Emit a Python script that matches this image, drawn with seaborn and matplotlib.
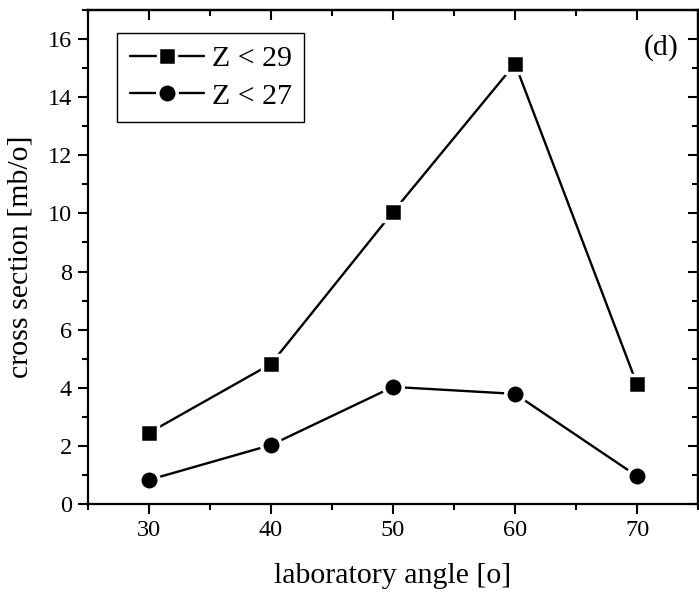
import matplotlib
matplotlib.use("Agg")
import matplotlib.pyplot as plt
import seaborn as sns
import pandas as pd
from matplotlib.ticker import MultipleLocator

angles = [30, 40, 50, 60, 70]
z29 = [2.45, 4.82, 10.05, 15.15, 4.12]
z27 = [0.83, 2.03, 4.03, 3.79, 0.96]
labels = ["Z < 29", "Z < 27"]

sns.set_theme(style="ticks")
plt.rcParams['font.family'] = ['Liberation Serif', 'DejaVu Serif']
plt.rcParams['text.color'] = 'black'
plt.rcParams['axes.labelcolor'] = 'black'
plt.rcParams['xtick.color'] = 'black'
plt.rcParams['ytick.color'] = 'black'

fig = plt.figure(figsize=(6.99, 5.99), dpi=100)
ax = fig.add_axes([0.1259, 0.1586, 0.8727, 0.8247])

df1 = pd.DataFrame({"angle": angles, "cs": z29})
df2 = pd.DataFrame({"angle": angles, "cs": z27})
sns.lineplot(data=df1, x="angle", y="cs", ax=ax, color="black", lw=1.7,
             marker="s", markersize=12.5, markeredgecolor="white", markeredgewidth=2.5,
             label=labels[0])
sns.lineplot(data=df2, x="angle", y="cs", ax=ax, color="black", lw=1.7,
             marker="o", markersize=14, markeredgecolor="white", markeredgewidth=2.5,
             label=labels[1])

ax.set_xlim(25, 75)
ax.set_ylim(0, 17)
ax.xaxis.set_major_locator(MultipleLocator(10))
ax.xaxis.set_minor_locator(MultipleLocator(5))
ax.yaxis.set_major_locator(MultipleLocator(2))
ax.yaxis.set_minor_locator(MultipleLocator(1))

for s in ax.spines.values():
    s.set_linewidth(1.6)
    s.set_color("black")
    s.set_visible(True)

ax.tick_params(axis="both", which="major", direction="out", length=7.5, width=1.5,
               labelsize=17.5, colors="black", pad=4)
ax.tick_params(axis="both", which="minor", direction="out", length=4, width=1.5)
axt = ax.secondary_xaxis("top")
axt.xaxis.set_major_locator(MultipleLocator(10))
axt.xaxis.set_minor_locator(MultipleLocator(5))
axt.tick_params(which="major", direction="in", length=7.5, width=1.5, labeltop=False)
axt.tick_params(which="minor", direction="in", length=4, width=1.5)
axr = ax.secondary_yaxis("right")
axr.yaxis.set_major_locator(MultipleLocator(2))
axr.yaxis.set_minor_locator(MultipleLocator(1))
axr.tick_params(which="major", direction="in", length=7.5, width=1.5, labelright=False)
axr.tick_params(which="minor", direction="in", length=4, width=1.5)
for sec in (axt, axr):
    for s in sec.spines.values():
        s.set_linewidth(1.6)
        s.set_color("black")

ax.set_xlabel("laboratory angle [o]", fontsize=21.5, labelpad=16, color="black")
ax.set_ylabel("cross section [mb/o]", fontsize=21.5, labelpad=10, color="black")

ax.text(0.969, 0.952, "(d)", transform=ax.transAxes, ha="right", va="top",
        fontsize=21.5, color="black")

leg = ax.legend(loc="upper left", bbox_to_anchor=(0.0475, 0.954), fontsize=21.5,
                frameon=True, fancybox=False, handlelength=2.5, handletextpad=0.25,
                borderpad=0.42, labelspacing=0.35, borderaxespad=0)
leg.get_frame().set_edgecolor("black")
leg.get_frame().set_linewidth(1.0)
leg.get_frame().set_alpha(1)
for t in leg.get_texts():
    t.set_color("black")

fig.savefig("out.png", dpi=100)
